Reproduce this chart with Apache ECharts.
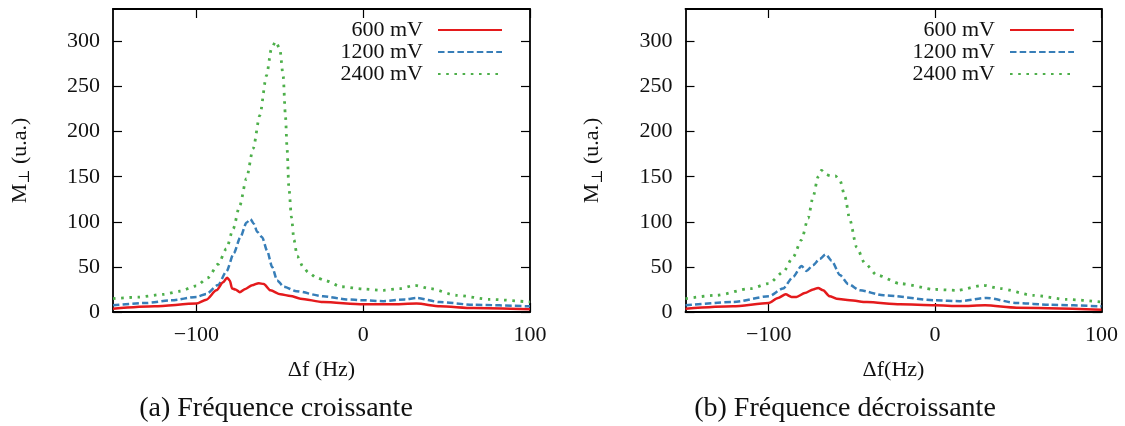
<!DOCTYPE html>
<html>
<head>
<meta charset="utf-8">
<script src="https://cdn.jsdelivr.net/npm/echarts@6/dist/echarts.min.js"></script>
<style>html,body{margin:0;padding:0;background:#fff}#c{width:1125px;height:426px}</style>
</head>
<body>
<div id="c"></div>
<script>
// ---- data ----
const seriesNames = ['600 mV', '1200 mV', '2400 mV'];
const xTicks = [-100, 0, 100];
const yTicks = [0, 50, 100, 150, 200, 250, 300];
const captions = ['(a) Fréquence croissante', '(b) Fréquence décroissante'];
const xNames = ['Δf (Hz)', 'Δf(Hz)'];

// (a) increasing frequency
const r600a = [[-150,3.7],[-125,6.3],[-100,9.3],[-94,13.7],[-88,24],[-84,33],[-81.6,38],[-80,35],[-78.6,26],[-76.6,25],[-74,22],[-70.6,25.6],[-66.6,29.6],[-62.6,32],[-59.6,31],[-55.6,24],[-49.6,19.6],[-43.6,17.8],[-37.6,14.8],[-24,11],[0,8.5],[16,8.5],[32,9.3],[46,6.3],[66,4.4],[100,3]];
const b1200a = [[-150,7.4],[-130,10],[-115,13],[-100,16.7],[-94,20],[-87,30],[-82,45],[-77.6,65],[-73.6,83],[-70,99],[-67.6,103],[-65.6,98],[-63.6,89],[-60.6,83],[-57.6,68],[-54.6,50],[-51.6,35],[-47.6,28],[-40,23],[-24,17.4],[-10,14],[0,13],[12,12],[25,14],[32,15.5],[46,11],[66,8],[100,6.3]];
const g2400a = [[-150,14.8],[-135,16.5],[-120,19.5],[-110,23],[-100,29],[-93,38],[-87,53],[-82,70],[-78,92],[-74,118],[-70,148],[-66,181],[-62,218],[-58,262],[-55,292],[-52.5,300],[-50,292],[-48,262],[-46.6,217],[-45.6,180],[-44.6,139],[-43,105],[-41.5,80],[-39.6,62],[-36,50],[-33,44],[-28,38],[-23,35],[-13,28],[0,25.5],[12,24],[22,26],[31,29.5],[40,26],[56,18.5],[76,14],[100,11]];

// (b) decreasing frequency
const r600b = [[-150,3.7],[-121.5,6.3],[-100,10],[-94.4,15.6],[-89.8,19.6],[-86.3,16.7],[-83.3,16.7],[-78.3,21],[-73.3,25],[-70.3,26.7],[-67.3,24],[-63.3,17.4],[-59.2,14.8],[-51.2,13],[-41,11],[-21,8.5],[0,7.4],[15,6.7],[30,7.4],[49,4.8],[100,2.6]];
const b1200b = [[-150,7.4],[-121.5,11],[-100,17.4],[-91.4,26],[-85.3,39],[-80.3,51],[-77.3,45.6],[-73.3,52],[-69.3,59],[-65.7,64],[-62.2,57],[-57.2,41],[-52.2,31],[-45.2,24],[-31,18.5],[0,13],[15,12],[31,15.6],[49,10],[69,8],[100,6.3]];
const g2400b = [[-150,14.8],[-131.5,18.5],[-111,26],[-100,31.5],[-91.4,44],[-85.3,61],[-80.3,80],[-76.3,104],[-73.3,128],[-70.3,150],[-68.3,157],[-66,153],[-63,151],[-60,151],[-57.2,146],[-54.2,128],[-51.2,102],[-47.2,72],[-42.2,54],[-35,41],[-21,31.5],[0,25],[13,24],[29,29.6],[39,26],[59,18.5],[79,14],[100,11]];

// ---- chart ----
const FONT = '"Liberation Serif", "DejaVu Serif", serif';
const COLORS = ['#e41a1c', '#377eb8', '#4daf4a'];
const LSTYLE = [
  {width: 2.5, type: 'solid'},
  {width: 2.5, type: [6.5, 3.2]},
  {width: 2.8, type: [2.6, 5.6]}
];
const X_MIN = -150, X_MAX = 100, Y_MIN = 0, Y_MAX = 336;

const grids = [
  {left: 113, right: 595, top: 9, bottom: 114},
  {left: 685.5, right: 23.5, top: 9, bottom: 114}
];

function xAxes(gi) {
  const base = {
    type: 'value', gridIndex: gi, min: X_MIN, max: X_MAX,
    splitLine: {show: false},
    axisLine: {show: true, onZero: false, lineStyle: {color: '#000', width: 1.8}},
    axisTick: {show: true, inside: true, length: 9, customValues: xTicks, lineStyle: {color: '#000', width: 1.2}}
  };
  return [
    Object.assign({}, base, {
      position: 'bottom',
      axisLabel: {show: true, customValues: xTicks, margin: 12, color: '#111', fontFamily: FONT, fontSize: 22,
        formatter: v => (v < 0 ? '\u2212' + Math.abs(v) : String(v))},
      name: xNames[gi], nameLocation: 'middle', nameGap: 47,
      nameTextStyle: {color: '#111', fontFamily: FONT, fontSize: 22}
    }),
    Object.assign({}, base, {position: 'top', axisLabel: {show: false}})
  ];
}
function yAxes(gi) {
  const base = {
    type: 'value', gridIndex: gi, min: Y_MIN, max: Y_MAX,
    splitLine: {show: false},
    axisLine: {show: true, onZero: false, lineStyle: {color: '#000', width: 1.8}},
    axisTick: {show: true, inside: true, length: 9, customValues: yTicks, lineStyle: {color: '#000', width: 1.2}}
  };
  return [
    Object.assign({}, base, {
      position: 'left',
      axisLabel: {show: true, customValues: yTicks, margin: 13, color: '#111', fontFamily: FONT, fontSize: 22},
      name: '{a|M}{b|\u22A5}{a| (u.a.)}', nameLocation: 'middle', nameGap: 80,
      nameTextStyle: {color: '#111', fontFamily: FONT, fontSize: 22,
        rich: {a: {fontFamily: FONT, fontSize: 22, color: '#111'}, b: {fontFamily: FONT, fontSize: 15, color: '#111', verticalAlign: 'bottom', lineHeight: 26}}}
    }),
    Object.assign({}, base, {position: 'right', axisLabel: {show: false}})
  ];
}

const xAxis = xAxes(0).concat(xAxes(1));
const yAxis = yAxes(0).concat(yAxes(1));

const dataA = [r600a, b1200a, g2400a];
const dataB = [r600b, b1200b, g2400b];
const series = [];
[dataA, dataB].forEach((set, gi) => {
  set.forEach((d, i) => {
    series.push({
      type: 'line', name: seriesNames[i], data: d,
      xAxisIndex: gi * 2, yAxisIndex: gi * 2,
      showSymbol: false, symbol: 'none', smooth: 0.25, smoothMonotone: 'x',
      lineStyle: Object.assign({color: COLORS[i]}, LSTYLE[i]),
      itemStyle: {color: COLORS[i]},
      z: 3 - i
    });
  });
});

function legend(id, rightPx) {
  return {
    id: id,
    data: seriesNames, orient: 'vertical', align: 'right',
    right: rightPx, top: 19, itemGap: 0, padding: 0,
    itemWidth: 64, itemHeight: 16,
    itemStyle: {opacity: 0},
    textStyle: {fontFamily: FONT, fontSize: 22, color: '#111', lineHeight: 22, padding: [0, 10, 0, 0]},
    selectedMode: false
  };
}

const option = {
  animation: false,
  backgroundColor: '#fff',
  color: COLORS,
  grid: grids,
  xAxis: xAxis,
  yAxis: yAxis,
  legend: [legend('la', 622), legend('lb', 50)],
  title: [
    {text: captions[0], left: 271, top: 390, textAlign: 'center',
      textStyle: {fontFamily: FONT, fontSize: 28, fontWeight: 'normal', color: '#111'}},
    {text: captions[1], left: 840, top: 390, textAlign: 'center',
      textStyle: {fontFamily: FONT, fontSize: 28, fontWeight: 'normal', color: '#111'}}
  ],
  series: series
};

const chart = echarts.init(document.getElementById('c'), null, {renderer: 'canvas'});
chart.setOption(option);
</script>
</body>
</html>
